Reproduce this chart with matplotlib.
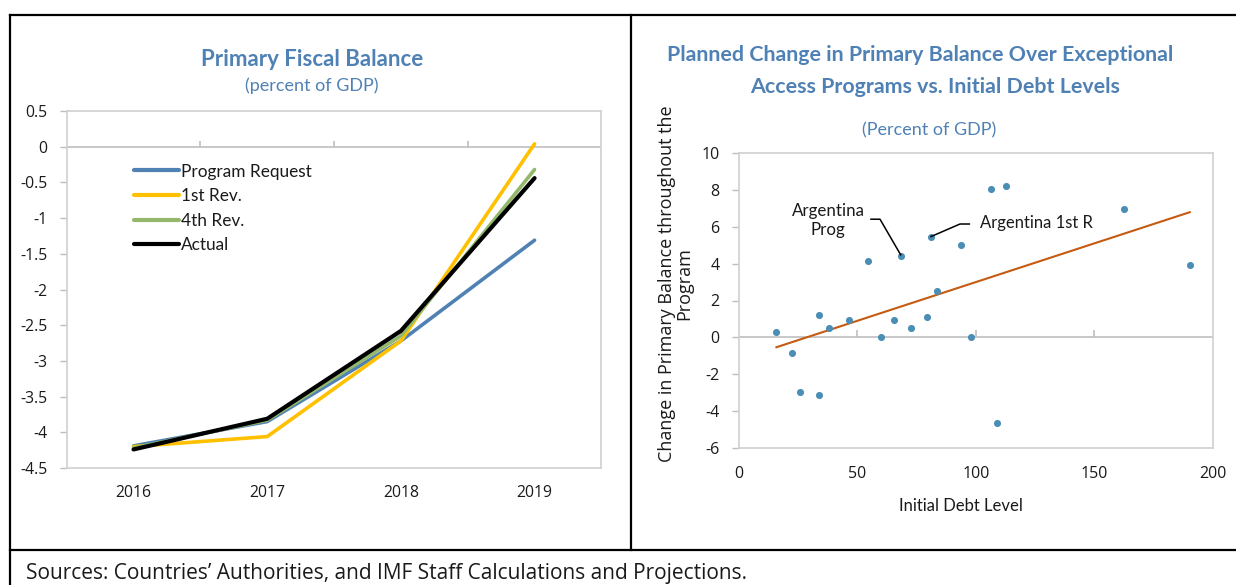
import matplotlib
matplotlib.use('Agg')
import matplotlib.pyplot as plt
from matplotlib.lines import Line2D
import numpy as np

# ---------------- data: left chart ----------------
years = ['2016', '2017', '2018', '2019']
program_request = [-4.19, -3.85, -2.72, -1.31]
first_rev = [-4.20, -4.06, -2.72, 0.04]
fourth_rev = [-4.22, -3.83, -2.65, -0.32]
actual = [-4.24, -3.81, -2.58, -0.44]
series_labels = ['Program Request', '1st Rev.', '4th Rev.', 'Actual']
left_yticks = [0.5, 0, -0.5, -1, -1.5, -2, -2.5, -3, -3.5, -4, -4.5]

# ---------------- data: right chart ----------------
initial_debt = [15.8, 22.2, 25.8, 34.0, 33.8, 38.2, 46.5, 54.5, 60.1, 65.3, 68.6,
                72.5, 79.2, 81.1, 83.6, 93.9, 97.8, 106.3, 109.1, 112.7, 162.8, 190.4]
pb_change = [0.28, -0.82, -2.97, 1.22, -3.10, 0.53, 0.93, 4.14, 0.0, 0.97, 4.41,
             0.51, 1.11, 5.42, 2.52, 5.01, 0.0, 8.04, -4.61, 8.22, 6.94, 3.91]
trend_x = [15.8, 190.4]
trend_y = [-0.53, 6.78]
right_xticks = [0, 50, 100, 150, 200]
right_yticks = [-6, -4, -2, 0, 2, 4, 6, 8, 10]

# annotations (label, text position, leader line)
prog_label = 'Argentina\nProg'
prog_text_xy = (37.6, 6.33)
prog_leader_x = [55.75, 59.56, 68.3]
prog_leader_y = [6.40, 6.40, 4.47]
rev_label = 'Argentina 1st R'
rev_text_xy = (102.0, 6.17)
rev_leader_x = [97.3, 93.35, 81.1]
rev_leader_y = [6.14, 6.14, 5.46]

# ---------------- style ----------------
W, H = 1236, 585
TITLE_C = '#4F81B5'
GRID_C = '#BFBFBF'
SPINE_C = '#D0D0D0'
TXT_C = '#1a1a1a'
colors = ['#4F82B3', '#FFC000', '#93B86C', '#000000']
widths = [2.6, 2.6, 2.6, 3.0]

fig = plt.figure(figsize=(W / 100, H / 100), dpi=100)

def fx(px):
    return px / W

def fy(py):
    return 1 - py / H

# ---------------- left chart ----------------
axL = fig.add_axes([fx(66.7), fy(468), fx(601.4) - fx(66.7), fy(111) - fy(468)])
x = np.arange(len(years))
for vals, c, lw, lab in zip([program_request, first_rev, fourth_rev, actual],
                            colors, widths, series_labels):
    axL.plot(x, vals, color=c, lw=lw, label=lab, solid_capstyle='round', zorder=3)
axL.set_xlim(-0.5, len(years) - 0.5)
axL.set_ylim(-4.5, 0.5)
axL.set_xticks(x)
axL.set_xticklabels(years, family='Open Sans', fontsize=11.3, color=TXT_C)
axL.set_yticks(left_yticks)
axL.set_yticklabels(['%g' % v for v in left_yticks], family='Open Sans', fontsize=11.3, color=TXT_C)
axL.tick_params(axis='x', length=0, pad=12)
axL.tick_params(axis='y', length=5, width=1, color=GRID_C, pad=9)
axL.axhline(0, color=GRID_C, lw=1.2, zorder=1)
axL.vlines(x[:-1] + 0.5, 0, 0.085, color=GRID_C, lw=1.2, zorder=1)
for s in axL.spines.values():
    s.set_color(SPINE_C)
    s.set_linewidth(1.2)
leg = axL.legend(loc='upper left', bbox_to_anchor=((134 - 66.7) / 535, (468 - 163.5) / 357),
                 frameon=False, borderpad=0, borderaxespad=0, handlelength=2.6,
                 handletextpad=0.12, labelspacing=0.5,
                 prop={'family': 'Lato', 'size': 12.4})
for t in leg.get_texts():
    t.set_color(TXT_C)
for h in leg.legend_handles:
    h.set_linewidth(3.0)
    h.set_solid_capstyle('round')

fig.text(fx(312), fy(60), 'Primary Fiscal Balance', ha='center', va='center',
         family='Lato', fontweight='bold', fontsize=16, color=TITLE_C)
fig.text(fx(312), fy(86), '(percent of GDP)', ha='center', va='center',
         family='Lato', fontsize=13, color=TITLE_C)

# ---------------- right chart ----------------
axR = fig.add_axes([fx(739), fy(448.3), fx(1212.5) - fx(739), fy(152.7) - fy(448.3)])
axR.scatter(initial_debt, pb_change, s=26, color='#4A8DB5', zorder=3, linewidths=0)
axR.plot(trend_x, trend_y, color='#C55A11', lw=1.5, zorder=2)
axR.set_xlim(0, 200)
axR.set_ylim(-6, 10)
axR.set_xticks(right_xticks)
axR.set_xticklabels([str(v) for v in right_xticks], family='Open Sans', fontsize=11.5, color=TXT_C)
axR.set_yticks(right_yticks)
axR.set_yticklabels(['%d' % v for v in right_yticks], family='Open Sans', fontsize=11.5, color=TXT_C)
axR.tick_params(axis='x', length=0, pad=13)
axR.tick_params(axis='y', length=5, width=1, color=GRID_C, pad=9)
axR.axhline(0, color=GRID_C, lw=1.2, zorder=1)
axR.vlines(right_xticks[1:-1], 0, 0.38, color=GRID_C, lw=1.2, zorder=1)
for s in axR.spines.values():
    s.set_color(SPINE_C)
    s.set_linewidth(1.2)

axR.text(*prog_text_xy, prog_label, ha='center', va='center', family='Lato',
         fontsize=12.2, color=TXT_C, linespacing=1.25, multialignment='center')
axR.plot(prog_leader_x, prog_leader_y, color='black', lw=1.1, zorder=4)
axR.text(*rev_text_xy, rev_label, ha='left', va='center', family='Lato',
         fontsize=12, color=TXT_C)
axR.plot(rev_leader_x, rev_leader_y, color='black', lw=1.1, zorder=4)

fig.text(fx(960.5), fy(505.7), 'Initial Debt Level', ha='center', va='center',
         family='Lato', fontsize=12, color=TXT_C)
fig.text(fx(675.5), fy(284), 'Change in Primary Balance throughout the\nProgram',
         ha='center', va='center', rotation=90, family='Open Sans', fontsize=13,
         color=TXT_C, multialignment='center', linespacing=0.95)

fig.text(fx(920), fy(55), 'Planned Change in Primary Balance Over Exceptional',
         ha='center', va='center', family='Lato', fontweight='bold', fontsize=15.4, color=TITLE_C)
fig.text(fx(935), fy(87), 'Access Programs vs. Initial Debt Levels',
         ha='center', va='center', family='Lato', fontweight='bold', fontsize=15.4, color=TITLE_C)
fig.text(fx(929), fy(130), '(Percent of GDP)', ha='center', va='center',
         family='Lato', fontsize=13, color=TITLE_C)

# ---------------- frame and footer ----------------
frame_kw = dict(color='black', lw=1.6, transform=fig.transFigure)
fig.add_artist(Line2D([fx(10), 1], [fy(15), fy(15)], **frame_kw))
fig.add_artist(Line2D([fx(10), fx(10)], [fy(15), 0], **frame_kw))
fig.add_artist(Line2D([fx(631), fx(631)], [fy(15), fy(550)], **frame_kw))
fig.add_artist(Line2D([fx(10), 1], [fy(550), fy(550)], **frame_kw))

fig.text(fx(26), fy(579.5), 'Sources: Countries\u2019 Authorities, and IMF Staff Calculations and Projections.',
         ha='left', va='baseline', family='Open Sans', fontsize=15, color=TXT_C)

fig.savefig('out.png', dpi=100)
